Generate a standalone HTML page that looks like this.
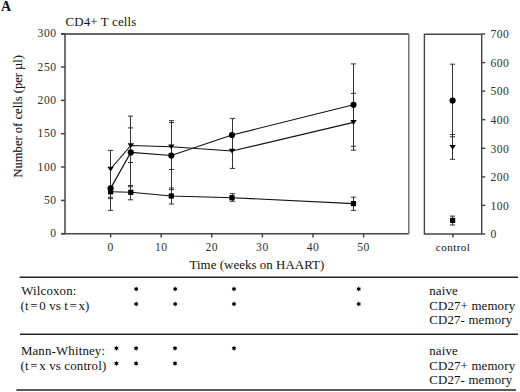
<!DOCTYPE html>
<html><head><meta charset="utf-8"><style>
html,body{margin:0;padding:0;background:#fff;}
svg{display:block;}
text{font-family:"Liberation Serif", serif;fill:#111;stroke:#111;stroke-width:0;letter-spacing:0.15px;}
</style></head><body>
<svg width="520" height="392" viewBox="0 0 520 392">
<rect width="520" height="392" fill="#fff"/>
<path d="M65 34 V233.7 H408.8" fill="none" stroke="#454545" stroke-width="1.5"/>
<path d="M61 33.9 H408.8" fill="none" stroke="#333" stroke-width="1.5"/>
<path d="M408.8 33.9 V233.7" fill="none" stroke="#6a6a6a" stroke-width="1.4"/>
<path d="M61 233.7 H65" stroke="#454545" stroke-width="1.5"/>
<text x="56.5" y="237.4" text-anchor="end" font-size="11.6" style="stroke-width:0;letter-spacing:0.5px;fill:#2e2e2e">0</text>
<path d="M61 200.4 H65" stroke="#454545" stroke-width="1.5"/>
<text x="56.5" y="204.1" text-anchor="end" font-size="11.6" style="stroke-width:0;letter-spacing:0.5px;fill:#2e2e2e">50</text>
<path d="M61 167.0 H65" stroke="#454545" stroke-width="1.5"/>
<text x="56.5" y="170.7" text-anchor="end" font-size="11.6" style="stroke-width:0;letter-spacing:0.5px;fill:#2e2e2e">100</text>
<path d="M61 133.7 H65" stroke="#454545" stroke-width="1.5"/>
<text x="56.5" y="137.4" text-anchor="end" font-size="11.6" style="stroke-width:0;letter-spacing:0.5px;fill:#2e2e2e">150</text>
<path d="M61 100.4 H65" stroke="#454545" stroke-width="1.5"/>
<text x="56.5" y="104.1" text-anchor="end" font-size="11.6" style="stroke-width:0;letter-spacing:0.5px;fill:#2e2e2e">200</text>
<path d="M61 67.0 H65" stroke="#454545" stroke-width="1.5"/>
<text x="56.5" y="70.7" text-anchor="end" font-size="11.6" style="stroke-width:0;letter-spacing:0.5px;fill:#2e2e2e">250</text>
<path d="M61 33.7 H65" stroke="#454545" stroke-width="1.5"/>
<text x="56.5" y="37.4" text-anchor="end" font-size="11.6" style="stroke-width:0;letter-spacing:0.5px;fill:#2e2e2e">300</text>
<path d="M110.6 233.7 V237.5" stroke="#454545" stroke-width="1.5"/>
<text x="110.6" y="250.6" text-anchor="middle" font-size="11.6" style="stroke-width:0;letter-spacing:0.5px;fill:#2e2e2e">0</text>
<path d="M161.2 233.7 V237.5" stroke="#454545" stroke-width="1.5"/>
<text x="161.2" y="250.6" text-anchor="middle" font-size="11.6" style="stroke-width:0;letter-spacing:0.5px;fill:#2e2e2e">10</text>
<path d="M211.8 233.7 V237.5" stroke="#454545" stroke-width="1.5"/>
<text x="211.8" y="250.6" text-anchor="middle" font-size="11.6" style="stroke-width:0;letter-spacing:0.5px;fill:#2e2e2e">20</text>
<path d="M262.4 233.7 V237.5" stroke="#454545" stroke-width="1.5"/>
<text x="262.4" y="250.6" text-anchor="middle" font-size="11.6" style="stroke-width:0;letter-spacing:0.5px;fill:#2e2e2e">30</text>
<path d="M313.0 233.7 V237.5" stroke="#454545" stroke-width="1.5"/>
<text x="313.0" y="250.6" text-anchor="middle" font-size="11.6" style="stroke-width:0;letter-spacing:0.5px;fill:#2e2e2e">40</text>
<path d="M363.6 233.7 V237.5" stroke="#454545" stroke-width="1.5"/>
<text x="363.6" y="250.6" text-anchor="middle" font-size="11.6" style="stroke-width:0;letter-spacing:0.5px;fill:#2e2e2e">50</text>
<path d="M61 233.7 H65" stroke="#454545" stroke-width="1.5"/>
<path d="M424.4 34.2 V234 H481.7 V34.2 Z" fill="none" stroke="#454545" stroke-width="1.4"/>
<path d="M481.7 234.0 H485.3" stroke="#454545" stroke-width="1.4"/>
<text x="490.5" y="238.3" font-size="11.6" style="stroke-width:0;letter-spacing:0.5px;fill:#2e2e2e">0</text>
<path d="M481.7 205.4 H485.3" stroke="#454545" stroke-width="1.4"/>
<text x="490.5" y="209.7" font-size="11.6" style="stroke-width:0;letter-spacing:0.5px;fill:#2e2e2e">100</text>
<path d="M481.7 176.9 H485.3" stroke="#454545" stroke-width="1.4"/>
<text x="490.5" y="181.2" font-size="11.6" style="stroke-width:0;letter-spacing:0.5px;fill:#2e2e2e">200</text>
<path d="M481.7 148.3 H485.3" stroke="#454545" stroke-width="1.4"/>
<text x="490.5" y="152.6" font-size="11.6" style="stroke-width:0;letter-spacing:0.5px;fill:#2e2e2e">300</text>
<path d="M481.7 119.7 H485.3" stroke="#454545" stroke-width="1.4"/>
<text x="490.5" y="124.0" font-size="11.6" style="stroke-width:0;letter-spacing:0.5px;fill:#2e2e2e">400</text>
<path d="M481.7 91.1 H485.3" stroke="#454545" stroke-width="1.4"/>
<text x="490.5" y="95.4" font-size="11.6" style="stroke-width:0;letter-spacing:0.5px;fill:#2e2e2e">500</text>
<path d="M481.7 62.6 H485.3" stroke="#454545" stroke-width="1.4"/>
<text x="490.5" y="66.9" font-size="11.6" style="stroke-width:0;letter-spacing:0.5px;fill:#2e2e2e">600</text>
<path d="M481.7 34.0 H485.3" stroke="#454545" stroke-width="1.4"/>
<text x="490.5" y="38.3" font-size="11.6" style="stroke-width:0;letter-spacing:0.5px;fill:#2e2e2e">700</text>
<path d="M452.9 234 V237.5" stroke="#454545" stroke-width="1.5"/>
<text x="453.1" y="250.9" text-anchor="middle" font-size="11.1" style="letter-spacing:0.45px">control</text>
<text x="1" y="10.6" font-size="14" font-weight="bold">A</text>
<text x="65.5" y="25.8" font-size="12.9">CD4+ T cells</text>
<text x="189.5" y="269.2" font-size="12.9" style="letter-spacing:0.05px">Time (weeks on HAART)</text>
<text transform="translate(22.4 177.6) rotate(-90)" font-size="12.6" style="letter-spacing:0;stroke-width:0.1px">Number of cells (per µl)</text>
<path d="M110.5 150.4 V210.4" stroke="#333" stroke-width="1"/>
<path d="M107.9 150.4 H113.1" stroke="#333" stroke-width="1"/>
<path d="M107.9 197.2 H113.1" stroke="#333" stroke-width="1"/>
<path d="M107.9 198.6 H113.1" stroke="#333" stroke-width="1"/>
<path d="M107.9 210.4 H113.1" stroke="#333" stroke-width="1"/>
<path d="M130.5 116.1 V199.8" stroke="#333" stroke-width="1"/>
<path d="M127.9 116.1 H133.1" stroke="#333" stroke-width="1"/>
<path d="M127.9 127.9 H133.1" stroke="#333" stroke-width="1"/>
<path d="M127.9 162.5 H133.1" stroke="#333" stroke-width="1"/>
<path d="M127.9 185.5 H133.1" stroke="#333" stroke-width="1"/>
<path d="M127.9 186.8 H133.1" stroke="#333" stroke-width="1"/>
<path d="M127.9 199.8 H133.1" stroke="#333" stroke-width="1"/>
<path d="M171.5 120.7 V204.0" stroke="#333" stroke-width="1"/>
<path d="M168.9 120.7 H174.1" stroke="#333" stroke-width="1"/>
<path d="M168.9 122.6 H174.1" stroke="#333" stroke-width="1"/>
<path d="M168.9 169.5 H174.1" stroke="#333" stroke-width="1"/>
<path d="M168.9 188.0 H174.1" stroke="#333" stroke-width="1"/>
<path d="M168.9 189.6 H174.1" stroke="#333" stroke-width="1"/>
<path d="M168.9 204.0 H174.1" stroke="#333" stroke-width="1"/>
<path d="M232.5 118.4 V168.4" stroke="#333" stroke-width="1"/>
<path d="M229.9 118.4 H235.1" stroke="#333" stroke-width="1"/>
<path d="M229.9 168.4 H235.1" stroke="#333" stroke-width="1"/>
<path d="M232.5 193.7 V201.3" stroke="#333" stroke-width="1"/>
<path d="M229.9 193.7 H235.1" stroke="#333" stroke-width="1"/>
<path d="M229.9 201.3 H235.1" stroke="#333" stroke-width="1"/>
<path d="M353.5 63.9 V150.2" stroke="#333" stroke-width="1"/>
<path d="M350.9 63.9 H356.1" stroke="#333" stroke-width="1"/>
<path d="M350.9 93.3 H356.1" stroke="#333" stroke-width="1"/>
<path d="M350.9 146.3 H356.1" stroke="#333" stroke-width="1"/>
<path d="M350.9 150.2 H356.1" stroke="#333" stroke-width="1"/>
<path d="M353.5 197.2 V210.4" stroke="#333" stroke-width="1"/>
<path d="M350.9 197.2 H356.1" stroke="#333" stroke-width="1"/>
<path d="M350.9 210.4 H356.1" stroke="#333" stroke-width="1"/>
<path d="M452.5 64.2 V159.3" stroke="#333" stroke-width="1"/>
<path d="M449.9 64.2 H455.1" stroke="#333" stroke-width="1"/>
<path d="M449.9 134.5 H455.1" stroke="#333" stroke-width="1"/>
<path d="M449.9 136.8 H455.1" stroke="#333" stroke-width="1"/>
<path d="M449.9 159.3 H455.1" stroke="#333" stroke-width="1"/>
<path d="M452.5 216.1 V225.0" stroke="#333" stroke-width="1"/>
<path d="M449.9 216.1 H455.1" stroke="#333" stroke-width="1"/>
<path d="M449.9 225.0 H455.1" stroke="#333" stroke-width="1"/>
<polyline points="110.6,188.4 130.8,152.4 171.3,155.5 232.0,135.0 353.5,104.8" fill="none" stroke="#111" stroke-width="1.15"/>
<polyline points="110.6,169.0 130.8,145.5 171.3,146.8 232.0,151.0 353.5,122.4" fill="none" stroke="#111" stroke-width="1.15"/>
<polyline points="110.6,191.8 130.8,192.3 171.3,196.0 232.0,197.7 353.5,203.6" fill="none" stroke="#111" stroke-width="1.15"/>
<circle cx="110.6" cy="188.4" r="3.1" fill="#000"/>
<path d="M107.4 166.7 H113.8 L110.6 171.5 Z" fill="#000"/>
<rect x="108.0" y="189.2" width="5.2" height="5.2" fill="#000"/>
<circle cx="130.8" cy="152.4" r="3.1" fill="#000"/>
<path d="M127.6 143.2 H134.0 L130.8 148.0 Z" fill="#000"/>
<rect x="128.2" y="189.7" width="5.2" height="5.2" fill="#000"/>
<circle cx="171.3" cy="155.5" r="3.1" fill="#000"/>
<path d="M168.1 144.5 H174.5 L171.3 149.3 Z" fill="#000"/>
<rect x="168.7" y="193.4" width="5.2" height="5.2" fill="#000"/>
<circle cx="232.0" cy="135.0" r="3.1" fill="#000"/>
<path d="M228.8 148.7 H235.2 L232.0 153.5 Z" fill="#000"/>
<rect x="229.4" y="195.1" width="5.2" height="5.2" fill="#000"/>
<circle cx="353.5" cy="104.8" r="3.1" fill="#000"/>
<path d="M350.3 120.1 H356.7 L353.5 124.9 Z" fill="#000"/>
<rect x="350.9" y="201.0" width="5.2" height="5.2" fill="#000"/>
<circle cx="452.6" cy="100.5" r="3.1" fill="#000"/>
<path d="M449.4 144.9 H455.8 L452.6 149.7 Z" fill="#000"/>
<rect x="450.0" y="217.8" width="5.2" height="5.2" fill="#000"/>
<path d="M19.6 277.3 H518" stroke="#222" stroke-width="1.5"/>
<path d="M20 334.2 H518" stroke="#222" stroke-width="1.5"/>
<path d="M16.4 389.9 H516" stroke="#222" stroke-width="1.5"/>
<text x="21.3" y="294.9" font-size="12.9">Wilcoxon:</text>
<text x="20.6" y="309.9" font-size="12.9">(t<tspan dx="1.5">=</tspan><tspan dx="1.5">0</tspan> vs t<tspan dx="1.5">=</tspan><tspan dx="1.5">x)</tspan></text>
<text x="20.9" y="355.1" font-size="12.9">Mann-Whitney:</text>
<text x="20.6" y="369.8" font-size="12.9">(t<tspan dx="1.5">=</tspan><tspan dx="1.5">x</tspan> vs control)</text>
<text x="429.2" y="295.1" font-size="12.9">naive</text>
<text x="429.2" y="309.7" font-size="12.9">CD27+ memory</text>
<text x="429.2" y="324.1" font-size="12.9">CD27- memory</text>
<text x="429.2" y="355.2" font-size="12.9">naive</text>
<text x="429.2" y="369.8" font-size="12.9">CD27+ memory</text>
<text x="429.2" y="384.2" font-size="12.9">CD27- memory</text>
<polygon points="136.20,286.40 135.48,287.76 133.95,287.70 134.77,289.00 133.95,290.30 135.48,290.24 136.20,291.60 136.91,290.24 138.45,290.30 137.63,289.00 138.45,287.70 136.91,287.76" fill="#000"/>
<polygon points="136.20,301.40 135.48,302.76 133.95,302.70 134.77,304.00 133.95,305.30 135.48,305.24 136.20,306.60 136.91,305.24 138.45,305.30 137.63,304.00 138.45,302.70 136.91,302.76" fill="#000"/>
<polygon points="175.20,286.40 174.48,287.76 172.95,287.70 173.77,289.00 172.95,290.30 174.48,290.24 175.20,291.60 175.91,290.24 177.45,290.30 176.63,289.00 177.45,287.70 175.91,287.76" fill="#000"/>
<polygon points="175.20,301.40 174.48,302.76 172.95,302.70 173.77,304.00 172.95,305.30 174.48,305.24 175.20,306.60 175.91,305.24 177.45,305.30 176.63,304.00 177.45,302.70 175.91,302.76" fill="#000"/>
<polygon points="234.00,286.40 233.28,287.76 231.75,287.70 232.57,289.00 231.75,290.30 233.28,290.24 234.00,291.60 234.72,290.24 236.25,290.30 235.43,289.00 236.25,287.70 234.72,287.76" fill="#000"/>
<polygon points="234.00,301.40 233.28,302.76 231.75,302.70 232.57,304.00 231.75,305.30 233.28,305.24 234.00,306.60 234.72,305.24 236.25,305.30 235.43,304.00 236.25,302.70 234.72,302.76" fill="#000"/>
<polygon points="358.70,286.40 357.99,287.76 356.45,287.70 357.27,289.00 356.45,290.30 357.99,290.24 358.70,291.60 359.41,290.24 360.95,290.30 360.13,289.00 360.95,287.70 359.41,287.76" fill="#000"/>
<polygon points="358.70,301.40 357.99,302.76 356.45,302.70 357.27,304.00 356.45,305.30 357.99,305.24 358.70,306.60 359.41,305.24 360.95,305.30 360.13,304.00 360.95,302.70 359.41,302.76" fill="#000"/>
<polygon points="116.40,345.70 115.69,347.06 114.15,347.00 114.97,348.30 114.15,349.60 115.69,349.54 116.40,350.90 117.12,349.54 118.65,349.60 117.83,348.30 118.65,347.00 117.12,347.06" fill="#000"/>
<polygon points="136.10,345.70 135.38,347.06 133.85,347.00 134.67,348.30 133.85,349.60 135.38,349.54 136.10,350.90 136.81,349.54 138.35,349.60 137.53,348.30 138.35,347.00 136.81,347.06" fill="#000"/>
<polygon points="175.00,345.70 174.28,347.06 172.75,347.00 173.57,348.30 172.75,349.60 174.28,349.54 175.00,350.90 175.72,349.54 177.25,349.60 176.43,348.30 177.25,347.00 175.72,347.06" fill="#000"/>
<polygon points="234.00,345.70 233.28,347.06 231.75,347.00 232.57,348.30 231.75,349.60 233.28,349.54 234.00,350.90 234.72,349.54 236.25,349.60 235.43,348.30 236.25,347.00 234.72,347.06" fill="#000"/>
<polygon points="116.40,360.80 115.69,362.16 114.15,362.10 114.97,363.40 114.15,364.70 115.69,364.64 116.40,366.00 117.12,364.64 118.65,364.70 117.83,363.40 118.65,362.10 117.12,362.16" fill="#000"/>
<polygon points="136.10,360.80 135.38,362.16 133.85,362.10 134.67,363.40 133.85,364.70 135.38,364.64 136.10,366.00 136.81,364.64 138.35,364.70 137.53,363.40 138.35,362.10 136.81,362.16" fill="#000"/>
<polygon points="175.00,360.80 174.28,362.16 172.75,362.10 173.57,363.40 172.75,364.70 174.28,364.64 175.00,366.00 175.72,364.64 177.25,364.70 176.43,363.40 177.25,362.10 175.72,362.16" fill="#000"/>
</svg>
</body></html>
